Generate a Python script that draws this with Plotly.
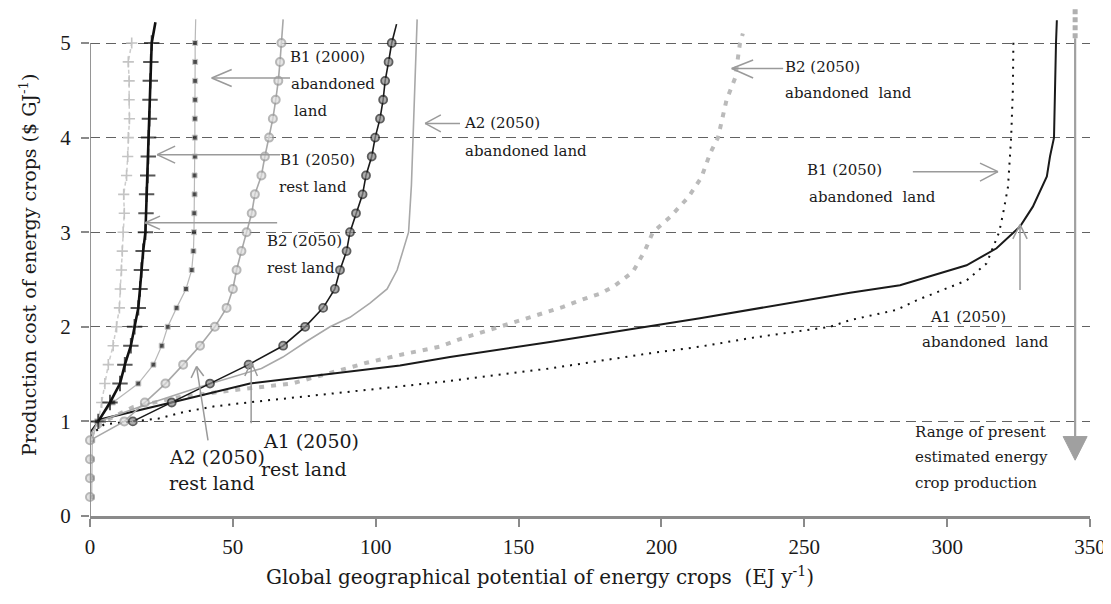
import plotly.graph_objects as go

# ---------------- data ----------------
Y_STEP = [1.0, 1.2, 1.4, 1.6, 1.8, 2.0, 2.2, 2.4, 2.6, 2.8, 3.0, 3.2, 3.4, 3.6, 3.8,
          4.0, 4.2, 4.4, 4.6, 4.8, 5.0]

# light grey "+" curve
plus_light_x = [2.9, 4.1, 5.2, 6.4, 8.1, 9.3, 10.3, 10.6, 11.0, 11.3, 11.6, 12.0, 11.8,
                12.8, 13.2, 13.4, 13.8, 13.7, 13.7, 13.4, 14.6]
plus_light_y = Y_STEP

# black "+" curve
plus_black_x = [2.9, 7.0, 10.5, 12.2, 14.3, 15.6, 16.9, 17.5, 18.0, 18.6, 19.4, 19.6, 19.8,
                20.2, 20.4, 20.5, 20.8, 21.0, 21.1, 21.3, 21.6, 22.9]
plus_black_y = Y_STEP + [5.22]

# black squares on thin grey line
sq_x = [0.6, 0.6, 0.6, 0.8, 2.5, 8.0, 16.9, 22.2, 25.1, 27.2, 30.3, 33.6, 35.6, 36.2, 36.4,
        36.5, 36.6, 36.6, 36.7, 36.7, 36.7, 36.8, 36.8, 36.8, 36.8, 37.0]
sq_y = [0.2, 0.4, 0.6, 0.8] + Y_STEP + [5.25]

# light grey circles
gc_x = [0.0, 0.0, 0.0, 0.0, 12.0, 19.2, 26.4, 32.6, 38.5, 43.7, 47.8, 50.0, 51.3, 53.0, 54.8,
        56.6, 57.7, 60.0, 61.2, 62.7, 64.0, 65.0, 65.9, 66.5, 67.0, 67.6]
gc_y = [0.2, 0.4, 0.6, 0.8] + Y_STEP + [5.25]

# dark circles
dc_x = [15.0, 28.6, 42.0, 55.5, 67.6, 75.3, 81.6, 85.7, 87.5, 89.8, 91.0, 93.1, 95.4, 96.6,
        98.6, 99.8, 101.5, 102.6, 103.3, 104.5, 105.6, 107.3]
dc_y = Y_STEP + [5.2]

# thin grey solid line (A2 2050 abandoned land)
a2ab_x = [0, 3, 20, 40, 60, 67.5, 76, 84, 91, 98, 104, 107.5, 109.5, 111.5, 112.5, 113.5, 114.5]
a2ab_y = [0.85, 1.0, 1.18, 1.38, 1.56, 1.68, 1.85, 2.0, 2.1, 2.25, 2.4, 2.6, 2.8, 3.0, 3.5,
          4.5, 5.25]

# black solid line (A1 2050 abandoned land)
a1ab_x = [0, 3.5, 30, 56, 108.5, 126, 161, 196, 213.5, 266, 283.5, 306.8, 317.3, 325.5, 330,
          334.9, 336, 337.4, 337.8, 338.1, 338.4]
a1ab_y = [0.88, 1.02, 1.21, 1.40, 1.59, 1.68, 1.84, 2.01, 2.09, 2.36, 2.44, 2.65, 2.83, 3.06,
          3.27, 3.59, 3.8, 4.0, 4.71, 5.0, 5.24]

# black dotted line (B1 2050 abandoned land)
b1ab_x = [0, 5, 18, 24, 33, 43.7, 58.3, 91, 108.5, 123.6, 161, 196, 213.5, 231, 259, 266,
          282.4, 289.3, 306.8, 313.8, 318.2, 319.6, 321.3, 322.4, 323, 323.2]
b1ab_y = [0.85, 0.97, 1.01, 1.03, 1.1, 1.16, 1.21, 1.31, 1.37, 1.42, 1.56, 1.72, 1.79, 1.88,
          2.0, 2.07, 2.18, 2.28, 2.49, 2.67, 3.0, 3.2, 3.48, 4.0, 4.5, 5.05]

# grey thick dashed line (B2 2050 abandoned land)
b2ab_x = [0, 5, 15, 30, 50, 63.6, 70.6, 89.8, 96.8, 109.6, 122.5, 129.5, 135.9, 146, 152.9,
          159.3, 165.6, 171.5, 178.5, 183, 190, 194.3, 197, 203, 209.4, 214, 217, 219.8,
          222.8, 225.8, 227.5, 228.5]
b2ab_y = [0.85, 1.0, 1.15, 1.25, 1.33, 1.37, 1.4, 1.56, 1.62, 1.71, 1.79, 1.87, 1.93, 2.02,
          2.08, 2.15, 2.21, 2.28, 2.35, 2.42, 2.58, 2.81, 3.0, 3.16, 3.37, 3.58, 3.83, 4.0,
          4.4, 4.63, 5.0, 5.1]

X_TICKS = [0, 50, 100, 150, 200, 250, 300, 350]
Y_TICKS = [0, 1, 2, 3, 4, 5]

TICK_FONT = "Liberation Serif"
TEXT_FONT = "DejaVu Serif"
ARROW = "#9a9a9a"
INK = "#1a1a1a"

fig = go.Figure()

# lines without markers
fig.add_trace(go.Scatter(x=b2ab_x, y=b2ab_y, mode="lines",
                         line=dict(color="#bababa", width=4, dash="5px,7px")))
fig.add_trace(go.Scatter(x=b1ab_x, y=b1ab_y, mode="lines",
                         line=dict(color="#111111", width=2, dash="2px,6px")))
fig.add_trace(go.Scatter(x=a1ab_x, y=a1ab_y, mode="lines",
                         line=dict(color=INK, width=2)))
fig.add_trace(go.Scatter(x=a2ab_x, y=a2ab_y, mode="lines",
                         line=dict(color="#a8a8a8", width=1.6)))

# marker curves
fig.add_trace(go.Scatter(x=plus_light_x, y=plus_light_y, mode="lines+markers",
                         line=dict(color="#cccccc", width=1.5, dash="4px,3px"),
                         marker=dict(symbol="cross-thin", size=8,
                                     line=dict(color="#c4c4c4", width=1.6))))
fig.add_trace(go.Scatter(x=sq_x, y=sq_y, mode="lines+markers", cliponaxis=False,
                         line=dict(color="#b8b8b8", width=1.2),
                         marker=dict(symbol="square", size=[5] * (len(sq_x) - 1) + [0],
                                     color="#111111")))
fig.add_trace(go.Scatter(x=gc_x, y=gc_y, mode="lines+markers", cliponaxis=False,
                         line=dict(color="#a8a8a8", width=1.6),
                         marker=dict(symbol="circle", size=[8] * (len(gc_x) - 1) + [0],
                                     color="#dcdcdc",
                                     line=dict(color="#9a9a9a", width=2))))
fig.add_trace(go.Scatter(x=dc_x, y=dc_y, mode="lines+markers",
                         line=dict(color=INK, width=1.6),
                         marker=dict(symbol="circle", size=[8] * (len(dc_x) - 1) + [0],
                                     color="#8a8a8a",
                                     line=dict(color=INK, width=1.8))))
fig.add_trace(go.Scatter(x=plus_black_x, y=plus_black_y, mode="lines+markers",
                         line=dict(color="#111111", width=2.6),
                         marker=dict(symbol="cross-thin", size=[11] * (len(plus_black_x) - 1) + [0],
                                     line=dict(color="#111111", width=2))))

# ---------------- decorations ----------------
shapes = []

def seg(x0, y0, x1, y1, color=ARROW, width=1.5, dash=None):
    d = dict(type="line", xref="x", yref="y", x0=x0, y0=y0, x1=x1, y1=y1,
             line=dict(color=color, width=width))
    if dash:
        d["line"]["dash"] = dash
    shapes.append(d)

def arrow(tip, tail, arm1, arm2):
    seg(tail[0], tail[1], tip[0], tip[1])
    seg(tip[0], tip[1], arm1[0], arm1[1])
    seg(tip[0], tip[1], arm2[0], arm2[1])

# y axis line (only from 0 to 5)
seg(0, 0, 0, 5, color="#8a8a8a", width=1.8)

arrow((42.6, 4.63), (70.0, 4.63), (49.6, 4.72), (49.6, 4.54))      # B1 (2000)
arrow((23.5, 3.82), (66.5, 3.82), (29.8, 3.91), (29.8, 3.73))      # B1 (2050) rest
arrow((19.3, 3.10), (65.5, 3.10), (24.5, 3.17), (24.5, 3.03))      # B2 (2050) rest
arrow((117.3, 4.15), (129.5, 4.15), (122.8, 4.24), (122.8, 4.06))  # A2 (2050) abandoned
arrow((224.6, 4.73), (242.6, 4.73), (232.1, 4.82), (232.1, 4.63))  # B2 (2050) abandoned
arrow((317.8, 3.64), (288.0, 3.64), (311.5, 3.73), (311.5, 3.54))  # B1 (2050) abandoned
arrow((325.5, 3.08), (325.5, 2.39), (323.0, 2.93), (328.0, 2.93))  # A1 (2050) abandoned
arrow((37.3, 1.58), (41.3, 0.80), (35.4, 1.46), (39.8, 1.48))      # A2 (2050) rest
arrow((56.4, 1.63), (56.4, 0.98), (54.2, 1.48), (58.6, 1.48))      # A1 (2050) rest

# range of present production arrow
seg(344.8, 0.84, 344.8, 5.05, color="#a0a0a0", width=2.2)
seg(344.8, 5.05, 344.8, 5.37, color="#b0b0b0", width=5, dash="5px,3px")
shapes.append(dict(type="path", xref="x", yref="y",
                   path="M 340.6 0.84 L 349.0 0.84 L 344.8 0.59 Z",
                   fillcolor="#a0a0a0", line=dict(color="#a0a0a0", width=1)))

fig.update_layout(shapes=shapes)

annots = []

def label(x, y, text, size=15):
    annots.append(dict(x=x, y=y, xref="x", yref="y", text=text, showarrow=False,
                       xanchor="left", yanchor="middle",
                       font=dict(family=TEXT_FONT, size=size, color=INK)))

label(69.3, 4.85, "B1 (2000)")
label(69.7, 4.57, "abandoned")
label(70.7, 4.28, "land")
label(65.8, 3.76, "B1 (2050)")
label(65.5, 3.48, "rest land")
label(61.3, 2.91, "B2 (2050)")
label(61.3, 2.62, "rest land")
label(130.2, 4.15, "A2 (2050)")
label(130.6, 3.86, "abandoned land")
label(242.6, 4.75, "B2 (2050)")
label(242.6, 4.47, "abandoned  land")
label(250.3, 3.66, "B1 (2050)")
label(251.0, 3.37, "abandoned  land")
label(293.3, 2.10, "A1 (2050)")
label(290.5, 1.84, "abandoned  land")
label(288.0, 0.89, "Range of present", 15)
label(288.0, 0.62, "estimated energy", 15)
label(288.0, 0.35, "crop production", 15)
label(26.8, 0.62, "A2 (2050)", 19)
label(26.8, 0.35, "rest land", 19)
label(59.8, 0.79, "A1 (2050)", 19)
label(59.2, 0.50, "rest land", 19)

# axis titles
annots.append(dict(x=0.45, y=-0.118, xref="paper", yref="paper",
                   text="Global geographical potential of energy crops  (EJ y<sup>-1</sup>)",
                   showarrow=False, xanchor="center", yanchor="middle",
                   font=dict(family=TEXT_FONT, size=20, color=INK)))
annots.append(dict(x=-0.062, y=0.494, xref="paper", yref="paper",
                   text="Production cost of energy crops ($ GJ<sup>-1</sup>)",
                   showarrow=False, xanchor="center", yanchor="middle", textangle=-90,
                   font=dict(family=TEXT_FONT, size=19, color=INK)))

# the page adds an 8 px body margin, so the figure is sized to fit the window
fig.update_layout(
    annotations=annots,
    width=1103, height=596,
    margin=dict(l=82, r=21, t=0, b=88),
    paper_bgcolor="white", plot_bgcolor="white",
    showlegend=False,
    font=dict(family=TICK_FONT, size=21, color=INK),
    xaxis=dict(range=[0, 350], tickvals=X_TICKS, ticks="outside", ticklen=8,
               tickcolor="#8a8a8a", tickwidth=1.5, showgrid=False, zeroline=False,
               showline=True, linecolor="#8a8a8a", linewidth=2.5,
               ticklabelstandoff=2, tickfont=dict(family=TICK_FONT, size=21)),
    yaxis=dict(range=[0, 5.37], tickvals=Y_TICKS, ticks="outside", ticklen=8,
               tickcolor="#8a8a8a", tickwidth=1.5, showgrid=True, gridcolor="#626262",
               griddash="10px,6px", gridwidth=1.2, zeroline=False, showline=False,
               ticklabelstandoff=6, tickfont=dict(family=TICK_FONT, size=21)),
)

fig.write_html("out.html")
